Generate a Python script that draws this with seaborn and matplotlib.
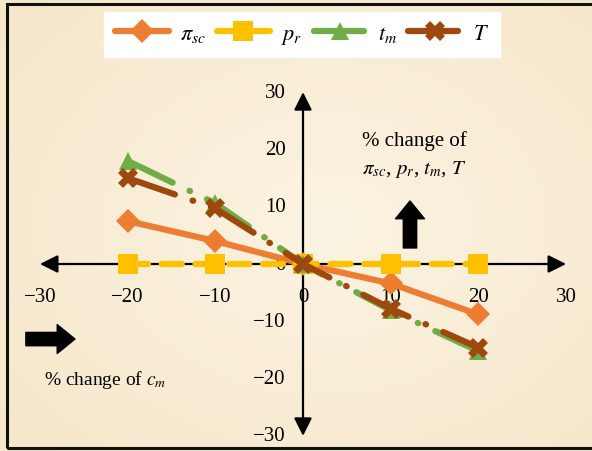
import numpy as np
import pandas as pd
import matplotlib
matplotlib.use("Agg")
import matplotlib.pyplot as plt
from matplotlib.patches import Rectangle
import seaborn as sns

# Sensitivity of the outputs to a percentage change of c_m
change_cm = [-20, -10, 0, 10, 20]
pi_sc = [7.5, 4.0, 0.0, -3.4, -8.8]
p_r = [0.0, 0.0, 0.0, 0.0, 0.0]
t_m = [18.0, 10.6, 0.0, -8.1, -15.2]
T_vals = [15.0, 9.7, 0.0, -7.8, -14.6]

series_labels = [r"$\pi_{sc}$", r"$p_r$", r"$t_m$", r"$T$"]
tick_values = [-30, -20, -10, 0, 10, 20, 30]

sns.set_theme(style="white")
plt.rcParams["font.family"] = ["Liberation Serif", "DejaVu Serif"]
plt.rcParams["mathtext.fontset"] = "stix"
plt.rcParams["text.color"] = "black"

W, H = 592, 452
fig = plt.figure(figsize=(W / 100, H / 100), dpi=100)

# parchment-like background
bg = fig.add_axes([0, 0, 1, 1], zorder=0)
yy, xx = np.mgrid[0:1:200j, 0:1:260j]
r = np.sqrt(((xx - 0.55) / 0.8) ** 2 + ((yy - 0.5) / 0.8) ** 2)
t = np.clip(r, 0, 1)[..., None]
light = np.array([251, 243, 226]) / 255.0
dark = np.array([246, 230, 200]) / 255.0
img = light * (1 - t) + dark * t
bg.imshow(img, extent=[0, 1, 0, 1], aspect="auto", interpolation="bicubic")
bg.set_axis_off()
bg.add_patch(Rectangle((7 / W, 1 - 449 / H), 620 / W, 444 / H,
                       transform=fig.transFigure, fill=False,
                       edgecolor="#111111", linewidth=2.2))

ax = fig.add_axes([0, 0, 1, 1], zorder=1)
ax.patch.set_alpha(0)
px_x, px_y = 8.77, 5.73
x0, y0 = 303, 265
ax.set_xlim(-x0 / px_x, (W - x0) / px_x)
ax.set_ylim(-(H - y0) / px_y, y0 / px_y)
ax.set_axis_off()

# axes with arrowheads at both ends
arrow_kw = dict(arrowstyle="<|-|>,head_length=0.9,head_width=0.45",
                color="black", lw=1.6, shrinkA=0, shrinkB=0)
ax.annotate("", xy=(30, 0), xytext=(-30, 0), arrowprops=arrow_kw, zorder=2)
ax.annotate("", xy=(0, 30), xytext=(0, -30), arrowprops=arrow_kw, zorder=2)

tick_font = dict(fontsize=15, color="black")
for v in tick_values:
    ax.text(v, -5.6, f"{v}".replace("-", "\u2212"), ha="center", va="center",
            zorder=3, **tick_font)
    ax.text(-2.0, v, f"{v}".replace("-", "\u2212"), ha="right", va="center",
            zorder=3, **tick_font)

df = pd.DataFrame({"x": change_cm, "pi_sc": pi_sc, "p_r": p_r,
                   "t_m": t_m, "T": T_vals})

styles = [
    ("pi_sc", "#ED7D31", "D", 12, "-"),
    ("p_r", "#FFC000", "s", 15, (0, (3.2, 2.2))),
    ("t_m", "#70AD47", "^", 13, (0, (8, 3, 0.1, 3))),
    ("T", "#9E480E", "X", 14, (0, (8, 3, 0.1, 3))),
]
handles = []
for (col, color, marker, ms, ls), lab in zip(styles, series_labels):
    sns.lineplot(data=df, x="x", y=col, ax=ax, color=color, marker=marker,
                 markersize=ms, markeredgewidth=0, linewidth=4.5,
                 linestyle=ls, label=lab, zorder=4,
                 dash_capstyle="round", solid_capstyle="round")
    handles.append(ax.lines[-1])

leg = ax.legend(handles=handles, labels=series_labels, ncol=4,
                loc="upper center", bbox_to_anchor=(302 / W, 1 - 13 / H),
                bbox_transform=fig.transFigure, borderaxespad=0,
                frameon=True, fancybox=False, fontsize=16,
                handlelength=2.4, columnspacing=0.5, handletextpad=0.5,
                borderpad=0.5)
leg.get_frame().set_facecolor("white")
leg.get_frame().set_edgecolor("white")
leg.get_frame().set_alpha(1)

# direction arrows
big = dict(arrowstyle="simple,head_length=0.8,head_width=1.3,tail_width=0.6",
           color="black", shrinkA=0, shrinkB=0, mutation_scale=16)
ax.annotate("", xy=(12.2, 11.0), xytext=(12.2, 2.8), arrowprops=big, zorder=3)
ax.annotate("", xy=(-26.0, -13.1), xytext=(-31.6, -13.1), arrowprops=big, zorder=3)

ax.text(12.7, 21.6, "% change of", ha="center", va="center", fontsize=15, zorder=3)
ax.text(12.7, 16.6, r"$\pi_{sc}$, $p_r$, $t_m$, $T$", ha="center", va="center",
        fontsize=15, zorder=3)
ax.text(-22.6, -20.1, r"% change of $c_m$", ha="center", va="center",
        fontsize=14, zorder=3)

fig.savefig("out.png", dpi=100)
